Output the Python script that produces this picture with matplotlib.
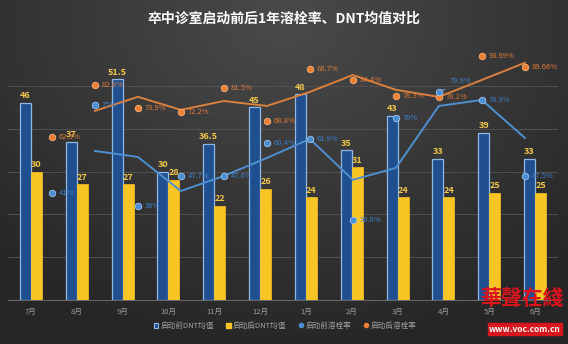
import numpy as np
import matplotlib
matplotlib.use('Agg')
import matplotlib.pyplot as plt
from matplotlib.lines import Line2D
from matplotlib.patches import Patch

plt.rcParams['font.family'] = ['Noto Sans CJK SC', 'DejaVu Sans']

# 数据
months = ['7月', '8月', '9月', '10月', '11月', '12月', '1月', '2月', '3月', '4月', '5月', '6月']
dnt_before = [46, 37, 51.5, 30, 36.5, 45, 48, 35, 43, 33, 39, 33]
dnt_after = [30, 27, 27, 28, 22, 26, 24, 31, 24, 24, 25, 25]
# 溶栓率标注点
rate_before = [41, 75, 36, 47.7, 47.6, 60.4, 61.9, 30.8, 70, 79.9, 76.9, 47.5]
rate_after = [62.5, 82.8, 73.9, 72.2, 81.5, 68.8, 88.7, 84.4, 78.3, 78.1, 93.99, 89.66]
# 折线
line_before = [np.nan, 57.3, 55, 41.9, 47.7, 54.6, 61.9, 46.2, 50.8, 74.6, 76.9, 62.3]
line_after = [np.nan, 72.7, 78.1, 73.1, 76.5, 74.6, 80, 86.5, 80.8, 78.1, 84.6, 91.2]

fig = plt.figure(figsize=(5.68, 3.44), dpi=100)

# 背景渐变
bg = fig.add_axes([0, 0, 1, 1], zorder=-10)
yy, xx = np.mgrid[0:344, 0:568]
d = np.sqrt(((xx - 284) / 420.0) ** 2 + ((yy - 20) / 330.0) ** 2)
img = 0.29 - 0.14 * np.clip(d, 0, 1)
bg.imshow(np.dstack([img, img, img]), aspect='auto', extent=[0, 1, 0, 1])
bg.axis('off')

ax = fig.add_axes([8 / 568, 44 / 344, 550 / 568, 257 / 344])
ax.patch.set_alpha(0)
x = np.arange(len(months))
w = 0.24
b1 = ax.bar(x - w / 2, dnt_before, w, color='#1f4f8f', edgecolor='#8fb8e6', linewidth=0.9, zorder=3)
b2 = ax.bar(x + w / 2, dnt_after, w, color='#f8c524', edgecolor='#f8c524', linewidth=0.5, zorder=3)
for i in range(len(months)):
    ax.text(x[i] - w / 2, dnt_before[i] + 0.6, '%g' % dnt_before[i], ha='center', va='bottom',
            fontsize=6.5, color='#f2c84a', fontweight='bold', zorder=5)
    ax.text(x[i] + w / 2, dnt_after[i] + 0.6, '%g' % dnt_after[i], ha='center', va='bottom',
            fontsize=6.5, color='#f2c84a', fontweight='bold', zorder=5)
ax.set_xlim(-0.5, 11.5)
ax.set_ylim(0, 60)
ax.set_yticks([0, 10, 20, 30, 40, 50])
ax.yaxis.grid(True, color='#555555', linewidth=0.6, zorder=0)
ax.set_xticks(x)
ax.set_xticklabels(months, fontsize=5.5, color='#9a9a9a')
ax.tick_params(axis='x', length=0, pad=6)
ax.tick_params(axis='y', length=0, labelleft=False)
for s in ax.spines.values():
    s.set_visible(False)
ax.spines['bottom'].set_visible(True)
ax.spines['bottom'].set_color('#666666')

# 溶栓率
ax2 = fig.add_axes([8 / 568, 44 / 344, 550 / 568, 257 / 344], zorder=4)
ax2.patch.set_alpha(0)
ax2.set_xlim(-1.02, 11.77)
ax2.set_ylim(0, 98.8)
ax2.axis('off')
ax2.plot(x, line_after, color='#d9803f', linewidth=1.4, zorder=4)
ax2.plot(x, line_before, color='#4f8fd0', linewidth=1.4, zorder=4)
ax2.scatter(x, rate_after, s=22, color='#ee7f33', edgecolor='#f6b27a', linewidth=0.6, zorder=6)
ax2.scatter(x, rate_before, s=22, color='#4a8ed3', edgecolor='#9cc4ef', linewidth=0.6, zorder=6)
for i in range(len(months)):
    ax2.annotate('%g%%' % rate_after[i], (x[i], rate_after[i]), xytext=(5, 0), textcoords='offset points',
                 va='center', fontsize=5.5, color='#e07b39', zorder=7)
    if i == 9:
        ax2.annotate('%g%%' % rate_before[i], (x[i], rate_before[i]), xytext=(8, 8), textcoords='offset points',
                     va='center', fontsize=5.5, color='#3d80c8', zorder=7,
                     arrowprops=dict(arrowstyle='-', color='#7fa8d8', linewidth=0.7))
    else:
        ax2.annotate('%g%%' % rate_before[i], (x[i], rate_before[i]), xytext=(5, 0), textcoords='offset points',
                     va='center', fontsize=5.5, color='#3d80c8', zorder=7)

fig.text(0.5, 1 - 19 / 344, '卒中诊室启动前后1年溶栓率、DNT均值对比', ha='center', va='center',
         fontsize=10, color='white', fontweight='bold')

handles = [Patch(facecolor='#1f4f8f', edgecolor='#8fb8e6', linewidth=0.8),
           Patch(facecolor='#f8c524', edgecolor='#f8c524'),
           Line2D([], [], marker='o', linestyle='', color='#4a8ed3', markersize=3),
           Line2D([], [], marker='o', linestyle='', color='#ee7f33', markersize=3)]
labels = ['启动前DNT均值', '启动后DNT均值', '启动前溶栓率', '启动后溶栓率']
leg = fig.legend(handles, labels, loc='center', bbox_to_anchor=(285 / 568, 1 - 326 / 344), ncol=4,
                 frameon=False, fontsize=5.5, handlelength=0.6, handleheight=0.6, handletextpad=0.3,
                 columnspacing=1.6)
for t in leg.get_texts():
    t.set_color('#a0a0a0')

# 水印
fig.text(522 / 568, 1 - 298 / 344, '華聲在綫', ha='center', va='center', fontsize=15,
         color='#d8141c', fontweight='bold', style='italic', zorder=20)
fig.text(525 / 568, 1 - 329 / 344, 'www.voc.com.cn', ha='center', va='center', fontsize=6,
         color='white', fontweight='bold', zorder=20,
         bbox=dict(boxstyle='square,pad=0.15', facecolor='#d8141c', edgecolor='#d8141c'))

fig.savefig('out.png', dpi=100, facecolor='#303030')
